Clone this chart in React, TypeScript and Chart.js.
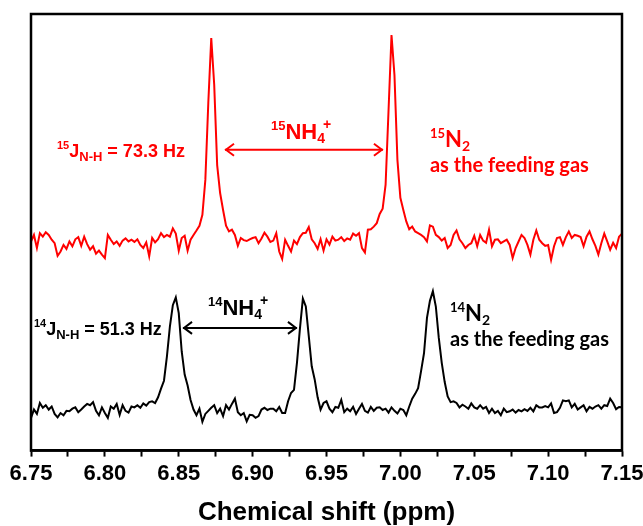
import React, { useEffect, useRef } from 'react';
import { Chart, registerables } from 'chart.js';

Chart.register(...registerables);

// Chemical shift sampling (ppm)
const shiftStart = 6.75;
const shiftStep = 0.002;
const xMin = 6.75;
const xMax = 7.15;
const xTickStep = 0.025;
const majorTickLabels = ['6.75', '6.80', '6.85', '6.90', '6.95', '7.00', '7.05', '7.10', '7.15'];

// 15N2 feeding gas spectrum (red, offset trace)
const red15N: number[] = [
  47.9, 49.4, 46.4, 49.8, 49.0, 50.0, 49.4, 48.3, 47.5, 44.6,
  45.6, 47.1, 46.2, 47.9, 46.8, 48.4, 48.9, 46.9, 49.0, 47.3,
  46.0, 46.8, 45.1, 45.8, 44.9, 44.1, 49.4, 48.3, 47.3, 47.9,
  46.9, 48.1, 48.6, 47.9, 48.3, 47.8, 48.4, 47.1, 46.4, 47.7,
  44.5, 48.7, 47.7, 48.4, 49.8, 48.9, 49.4, 49.0, 50.9, 49.7,
  45.8, 48.7, 49.2, 45.8, 48.3, 49.4, 50.4, 51.5, 54.0, 62.0,
  79.6, 94.5, 83.8, 65.4, 59.0, 55.1, 51.5, 50.2, 50.6, 49.4,
  46.9, 48.7, 48.2, 48.0, 48.4, 48.7, 48.9, 47.5, 48.6, 49.9,
  49.0, 47.8, 48.1, 49.8, 45.6, 43.9, 48.3, 46.9, 45.6, 48.1,
  47.3, 48.9, 49.8, 49.9, 51.2, 48.4, 47.5, 46.2, 48.4, 45.8,
  48.4, 47.2, 49.0, 48.1, 48.3, 48.9, 48.0, 48.6, 48.3, 49.7,
  49.2, 49.8, 46.4, 45.4, 50.6, 50.7, 51.3, 52.1, 54.2, 55.4,
  60.9, 78.0, 95.2, 86.0, 66.6, 57.9, 55.1, 52.5, 50.7, 51.3,
  50.2, 49.8, 49.4, 48.9, 47.9, 51.6, 51.3, 49.4, 48.9, 48.1,
  48.7, 46.4, 47.1, 49.4, 50.4, 48.4, 47.5, 46.4, 47.1, 47.5,
  49.2, 46.8, 49.4, 48.1, 47.6, 50.6, 46.8, 48.3, 48.4, 47.5,
  47.9, 48.3, 47.1, 44.1, 46.4, 47.9, 49.4, 48.7, 47.1, 44.9,
  48.3, 50.4, 48.3, 47.5, 46.9, 47.1, 43.7, 46.8, 48.7, 48.9,
  47.1, 48.9, 50.2, 48.7, 49.4, 49.2, 48.9, 46.8, 49.0, 50.2,
  48.4, 46.9, 44.9, 47.5, 49.7, 47.9, 46.0, 47.6, 46.4, 49.0, 49.7,
];

// 14N2 feeding gas spectrum (black)
const black14N: number[] = [
  7.5, 9.4, 8.4, 10.9, 9.8, 10.4, 9.4, 10.1, 8.4, 7.6,
  8.6, 8.1, 9.1, 9.0, 9.6, 9.9, 8.8, 9.4, 10.1, 10.7,
  10.4, 11.1, 9.1, 8.1, 9.9, 8.6, 7.5, 10.1, 9.6, 10.7,
  8.2, 10.4, 9.1, 8.7, 10.1, 9.9, 10.4, 9.8, 10.8, 10.3,
  11.1, 11.3, 10.9, 12.2, 14.2, 16.0, 21.6, 28.4, 33.3, 35.1,
  31.5, 22.7, 17.4, 14.9, 11.6, 9.4, 8.1, 9.6, 6.6, 8.4,
  9.1, 9.8, 10.4, 8.6, 9.6, 7.9, 10.4, 9.4, 10.7, 11.9,
  8.8, 8.1, 8.6, 6.7, 8.2, 8.1, 7.5, 7.9, 9.4, 9.8,
  9.3, 9.6, 9.6, 9.0, 10.0, 8.6, 8.6, 11.3, 13.2, 13.9,
  20.1, 27.9, 34.8, 33.0, 26.2, 19.3, 16.3, 12.2, 9.4, 10.9,
  11.3, 9.6, 8.8, 10.0, 9.8, 11.6, 8.8, 9.6, 9.0, 10.0,
  8.4, 9.6, 10.7, 9.1, 8.7, 10.0, 9.1, 9.8, 9.9, 9.3,
  9.6, 8.7, 9.9, 9.1, 8.5, 9.6, 9.3, 8.1, 10.1, 11.9,
  13.0, 14.3, 18.2, 22.3, 30.4, 34.3, 36.5, 33.0, 25.8, 20.1,
  15.7, 12.4, 11.1, 11.3, 10.9, 9.9, 10.5, 10.1, 9.6, 10.8,
  9.9, 9.6, 10.4, 9.6, 10.0, 8.6, 9.6, 8.6, 9.1, 8.1,
  9.6, 8.8, 9.0, 9.4, 8.7, 9.3, 9.0, 9.5, 9.1, 9.8,
  9.0, 10.4, 9.9, 9.9, 10.2, 9.9, 10.8, 8.6, 8.8, 9.8,
  11.5, 11.3, 11.5, 9.9, 10.7, 9.4, 9.9, 10.4, 9.0, 10.0,
  9.6, 10.1, 10.4, 9.6, 10.4, 10.2, 11.9, 10.9, 9.5, 10.0, 9.9,
];

const RED = '#ff0000';
const BLACK = '#000000';
const ARIAL = '"Liberation Sans", Arial, sans-serif';
const CALI = 'Lato, "Open Sans", "Noto Sans", sans-serif';

type Seg = { t: string; size: number; dy: number; dx?: number; family?: string; weight?: string };
type Note =
  | { kind: 'text'; x: number; y: number; color: string; segs: Seg[] }
  | { kind: 'arrow'; x1: number; x2: number; y: number; color: string };

const notes: Note[] = [
  { kind: 'text', x: 6.7676, y: 67.3, color: RED, segs: [
    { t: '15', size: 11, dy: -8 }, { t: 'J', size: 18, dy: 0 }, { t: 'N-H', size: 13, dy: 4 }, { t: ' = 73.3 Hz', size: 18, dy: 0 },
  ] },
  { kind: 'arrow', x1: 6.8813, x2: 6.9882, y: 68.9, color: RED },
  { kind: 'text', x: 6.9124, y: 71.4, color: RED, segs: [
    { t: '15', size: 13, dy: -9 }, { t: 'NH', size: 22, dy: 0 }, { t: '4', size: 14, dy: 4 }, { t: '+', size: 14, dy: -10, dx: -2 },
  ] },
  { kind: 'text', x: 7.02, y: 69.6, color: RED, segs: [
    { t: '15', size: 13, dy: -9, family: CALI }, { t: 'N', size: 22, dy: 0, family: CALI }, { t: '2', size: 14, dy: 4, family: CALI },
  ] },
  { kind: 'text', x: 7.02, y: 63.8, color: RED, segs: [
    { t: 'as the feeding gas', size: 20, dy: 0, family: CALI },
  ] },
  { kind: 'text', x: 6.752, y: 26.5, color: BLACK, segs: [
    { t: '14', size: 11, dy: -8 }, { t: 'J', size: 18, dy: 0 }, { t: 'N-H', size: 13, dy: 4 }, { t: ' = 51.3 Hz', size: 18, dy: 0 },
  ] },
  { kind: 'arrow', x1: 6.8529, x2: 6.93, y: 28.1, color: BLACK },
  { kind: 'text', x: 6.8698, y: 31.1, color: BLACK, segs: [
    { t: '14', size: 13, dy: -9 }, { t: 'NH', size: 22, dy: 0 }, { t: '4', size: 14, dy: 4 }, { t: '+', size: 14, dy: -10, dx: -2 },
  ] },
  { kind: 'text', x: 7.0336, y: 29.7, color: BLACK, segs: [
    { t: '14', size: 13, dy: -9, family: CALI }, { t: 'N', size: 22, dy: 0, family: CALI }, { t: '2', size: 14, dy: 4, family: CALI },
  ] },
  { kind: 'text', x: 7.0336, y: 24.0, color: BLACK, segs: [
    { t: 'as the feeding gas', size: 20, dy: 0, family: CALI },
  ] },
];

const toPoints = (ys: number[]) => ys.map((y, i) => ({ x: +(shiftStart + i * shiftStep).toFixed(4), y }));

const framePlugin = {
  id: 'frame',
  afterDatasetsDraw(chart: any) {
    const { ctx, chartArea: a } = chart;
    ctx.save();
    ctx.strokeStyle = BLACK;
    ctx.lineWidth = 2.5;
    ctx.strokeRect(a.left, a.top, a.right - a.left, a.bottom - a.top);
    ctx.restore();
  },
};

const notesPlugin = {
  id: 'notes',
  afterDraw(chart: any) {
    const { ctx } = chart;
    const xs = chart.scales.x;
    const ys = chart.scales.y;
    ctx.save();
    for (const n of notes) {
      if (n.kind === 'arrow') {
        const x1 = xs.getPixelForValue(n.x1);
        const x2 = xs.getPixelForValue(n.x2);
        const y = ys.getPixelForValue(n.y);
        ctx.strokeStyle = n.color;
        ctx.lineWidth = 2;
        ctx.beginPath();
        ctx.moveTo(x1, y);
        ctx.lineTo(x2, y);
        ctx.stroke();
        const h = 9, w = 6;
        ctx.beginPath();
        ctx.moveTo(x1 + h, y - w); ctx.lineTo(x1 + 1, y); ctx.lineTo(x1 + h, y + w);
        ctx.stroke();
        ctx.beginPath();
        ctx.moveTo(x2 - h, y - w); ctx.lineTo(x2 - 1, y); ctx.lineTo(x2 - h, y + w);
        ctx.stroke();
      } else {
        let cx = xs.getPixelForValue(n.x);
        const by = ys.getPixelForValue(n.y);
        ctx.fillStyle = n.color;
        ctx.textBaseline = 'alphabetic';
        ctx.textAlign = 'left';
        for (const s of n.segs) {
          ctx.font = `${s.weight ?? 'bold'} ${s.size}px ${s.family ?? ARIAL}`;
          cx += s.dx ?? 0;
          ctx.fillText(s.t, cx, by + s.dy);
          cx += ctx.measureText(s.t).width;
        }
      }
    }
    ctx.restore();
  },
};

export default function App() {
  const ref = useRef<HTMLCanvasElement | null>(null);
  useEffect(() => {
    if (!ref.current) return;
    const chart = new Chart(ref.current, {
      type: 'line',
      data: {
        datasets: [
          { label: '15N2', data: toPoints(red15N), borderColor: RED, borderWidth: 2, pointRadius: 0, tension: 0 },
          { label: '14N2', data: toPoints(black14N), borderColor: BLACK, borderWidth: 2, pointRadius: 0, tension: 0 },
        ],
      },
      options: {
        animation: false,
        responsive: true,
        maintainAspectRatio: false,
        devicePixelRatio: 1,
        layout: { padding: { left: 31, right: 21, top: 14, bottom: 0 } },
        plugins: { legend: { display: false }, tooltip: { enabled: false } },
        scales: {
          x: {
            type: 'linear',
            min: xMin,
            max: xMax,
            afterFit: (scale: any) => {
              scale.paddingLeft = 0;
              scale.paddingRight = 0;
            },
            border: { display: true, color: BLACK, width: 2.5 },
            grid: { drawOnChartArea: false, drawTicks: true, tickLength: 6, tickWidth: 2, tickColor: BLACK },
            ticks: {
              stepSize: xTickStep,
              autoSkip: false,
              maxRotation: 0,
              padding: 4,
              color: BLACK,
              font: { family: ARIAL, size: 22, weight: 'bold' },
              callback: (v: any) => {
                const n = Number(v);
                const idx = Math.round((n - xMin) / 0.05);
                return Math.abs(n - (xMin + idx * 0.05)) < 1e-6 ? majorTickLabels[idx] : '';
              },
            },
            title: {
              display: true,
              text: 'Chemical shift (ppm)',
              color: BLACK,
              font: { family: ARIAL, size: 26, weight: 'bold', lineHeight: 1 },
              padding: { top: 9, bottom: 0 },
            },
          },
          y: { display: false, min: 0, max: 100 },
        },
      },
      plugins: [framePlugin, notesPlugin],
    });
    return () => chart.destroy();
  }, []);
  return (
    <div style={{ position: 'fixed', left: 0, top: 0, width: 643, height: 526, background: '#fff' }}>
      <canvas ref={ref} />
    </div>
  );
}
